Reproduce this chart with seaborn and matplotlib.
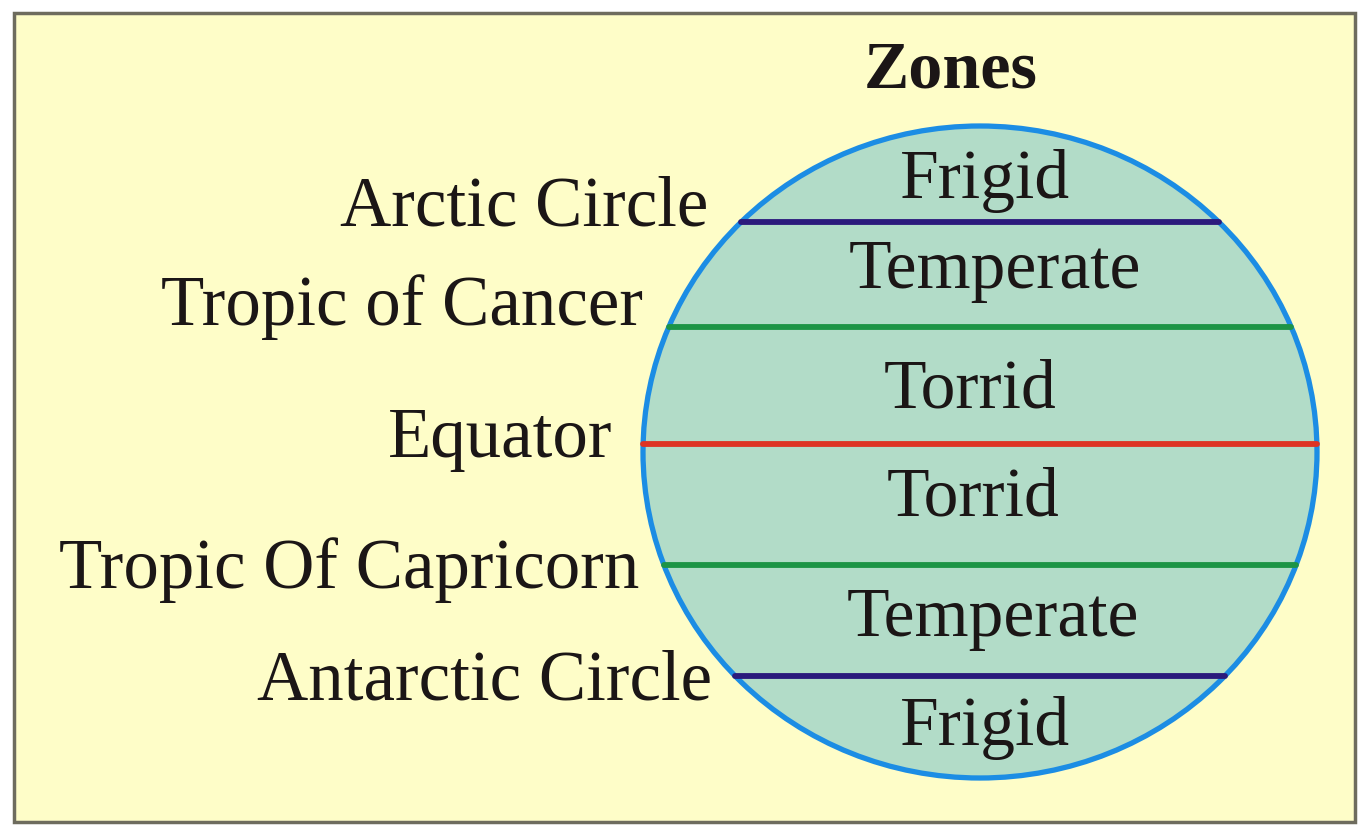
import numpy as np
import pandas as pd
import matplotlib
matplotlib.use("Agg")
import matplotlib.pyplot as plt
from matplotlib.patches import Ellipse, Rectangle
import seaborn as sns

# diagram content
line_names = ["Arctic Circle", "Tropic of Cancer", "Equator", "Tropic Of Capricorn", "Antarctic Circle"]
line_y = [222, 327, 444, 565, 676]
line_colors = ["#2b1a7c", "#1d9446", "#de3424", "#1d9446", "#2b1a7c"]
label_right = [708, 643, 612, 639, 712]
label_base = [226, 325, 457, 588, 700]

zone_names = ["Frigid", "Temperate", "Torrid", "Torrid", "Temperate", "Frigid"]
zone_x = [985, 995, 970, 973, 993, 985]
zone_base = [198, 288, 408, 515, 636, 745]

title = "Zones"

# globe geometry (pixels)
cx, cy = 980, 452
rx, ry = 337, 326

sns.set_theme(style="white")
plt.rcParams['font.family'] = ['Liberation Serif', 'DejaVu Serif']

fig = plt.figure(figsize=(13.63, 8.25), dpi=100)
fig.patch.set_facecolor("white")
ax = fig.add_axes([0, 0, 1, 1])

# panel
ax.add_patch(Rectangle((14, 13), 1341, 809, facecolor="#fefdc8",
                       edgecolor="#6e6c5e", linewidth=2.5, zorder=0))

# globe
ax.add_patch(Ellipse((cx, cy), 2 * rx, 2 * ry, facecolor="#b2dcc8",
                     edgecolor="none", zorder=1))
ax.add_patch(Ellipse((cx, cy), 2 * rx, 2 * ry, facecolor="none",
                     edgecolor="#1c8de4", linewidth=3.8, zorder=3))

# chords across the globe
rows = []
for name, y in zip(line_names, line_y):
    half = rx * np.sqrt(1 - ((y - cy) / ry) ** 2)
    rows.append({"name": name, "x": cx - half, "y": y})
    rows.append({"name": name, "x": cx + half, "y": y})
df = pd.DataFrame(rows)

sns.lineplot(data=df, x="x", y="y", hue="name", units="name", estimator=None,
             sort=False, palette=dict(zip(line_names, line_colors)),
             linewidth=4.2, legend=False, ax=ax, zorder=4)
ax.set_xlim(0, 1363)
ax.set_ylim(825, 0)
ax.axis("off")

# labels
for name, xr, yb in zip(line_names, label_right, label_base):
    ax.text(xr, yb, name, ha="right", va="baseline", fontsize=51, color="#1b1616")

for name, xc, yb in zip(zone_names, zone_x, zone_base):
    ax.text(xc, yb, name, ha="center", va="baseline", fontsize=50, color="#1b1616", zorder=5)

ax.text(951, 88, title, ha="center", va="baseline", fontsize=49,
        fontweight="bold", color="#1b1616")

plt.savefig("out.png", dpi=100, facecolor=fig.get_facecolor())
